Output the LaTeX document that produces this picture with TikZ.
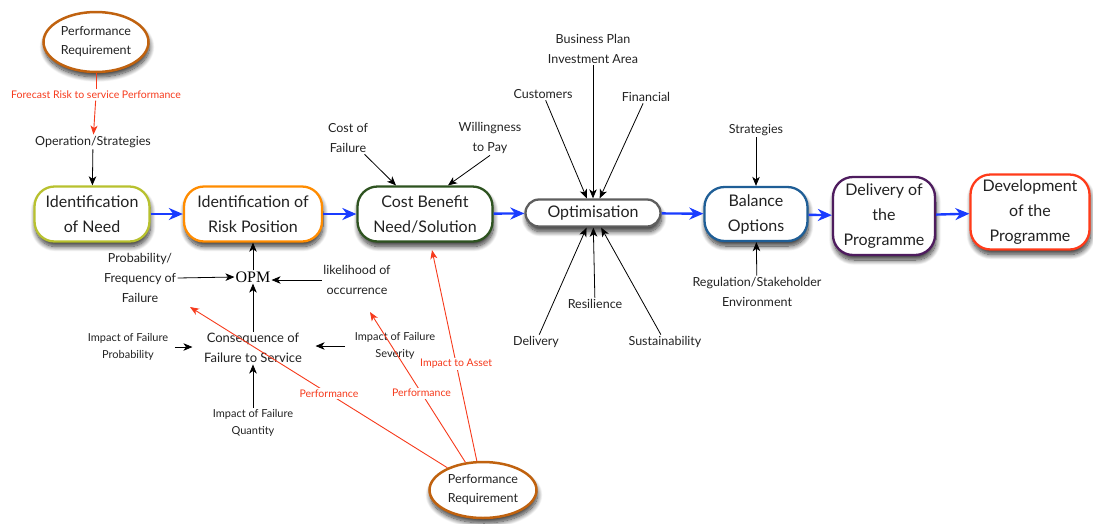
\documentclass[tikz,border=0pt]{standalone}
\usepackage{fontspec}
\setmainfont{Lato}
\newfontfamily\opmfont{Liberation Serif}
\usetikzlibrary{arrows.meta,shadows.blur,shapes.geometric}

\definecolor{needc}{HTML}{B8C12F}
\definecolor{riskc}{HTML}{FF8C00}
\definecolor{costc}{HTML}{2E5320}
\definecolor{optc}{HTML}{5E5E5E}
\definecolor{balc}{HTML}{1F5E96}
\definecolor{delc}{HTML}{4E1C5E}
\definecolor{devc}{HTML}{FF3B1A}
\definecolor{ellc}{HTML}{C0620F}
\definecolor{redc}{HTML}{F63A1C}
\definecolor{flowc}{HTML}{1A3CFF}
\definecolor{textc}{HTML}{222222}

\begin{document}
\begin{tikzpicture}[x=1pt,y=-1pt,
  soft/.style={blur shadow={shadow xshift=1pt, shadow yshift=-5pt,
      shadow blur steps=12, shadow blur radius=5pt, shadow opacity=80}},
  proc/.style={draw, line width=2.3pt, fill=white, rounded corners=20pt,
      align=center, inner sep=0pt, text=textc,
      font=\fontsize{16}{25}\selectfont, soft},
  req/.style={ellipse, draw=ellc, line width=2.5pt, fill=white, align=center,
      inner sep=0pt, text=textc, font=\fontsize{12.5}{19}\selectfont, soft},
  lbl/.style={align=center, inner sep=1.5pt, text=textc,
      font=\fontsize{12.5}{20}\selectfont},
  small/.style={align=center, inner sep=1.5pt, text=textc,
      font=\fontsize{11}{17.5}\selectfont},
  redlbl/.style={text=redc, inner sep=1.5pt, fill=white,
      font=\fontsize{10.5}{14}\selectfont},
  flow/.style={-{Stealth[length=14pt,width=12pt,inset=4.5pt]}, line width=2.4pt, draw=flowc},
  feed/.style={-{Stealth[length=9pt,width=7.5pt,inset=2.5pt]}, line width=0.8pt},
  redarr/.style={-{Stealth[length=9pt,width=7pt,inset=2.5pt]}, line width=0.9pt, draw=redc},
]
\useasboundingbox (0,0) rectangle (1093,523);

% main process chain
\node[proc, draw=needc, minimum width=115pt, minimum height=55pt] (need) at (92,214)
  {Identification\\of Need};
\node[proc, draw=riskc, minimum width=138pt, minimum height=55pt] (risk) at (253,214)
  {Identification of\\Risk Position};
\node[proc, draw=costc, minimum width=135pt, minimum height=55pt] (cost) at (425,214)
  {Cost Benefit\\Need/Solution};
\node[proc, draw=optc, rounded corners=13.5pt, minimum width=135pt, minimum height=27pt] (opt) at (593,213)
  {Optimisation};
\node[proc, draw=balc, minimum width=103pt, minimum height=54pt] (bal) at (756,214)
  {Balance\\Options};
\node[proc, draw=delc, minimum width=102pt, minimum height=78pt] (deliv) at (884,216)
  {Delivery of\\the\\Programme};
\node[proc, draw=devc, minimum width=119pt, minimum height=75pt] (devp) at (1030,212)
  {Development\\of the\\Programme};

\draw[flow] (need) -- (risk);
\draw[flow] (risk) -- (cost);
\draw[flow] (cost) -- (opt);
\draw[flow] (opt) -- (bal);
\draw[flow] (bal) -- (deliv);
\draw[flow] (deliv) -- (devp);

% performance requirement feeding the need
\node[req, minimum width=105pt, minimum height=60pt] (pr1) at (96,42)
  {Performance\\Requirement};
\node[redlbl, fill=none] (forecast) at (96,95) {Forecast Risk to service Performance};
\node[lbl] (ops) at (93,142) {Operation/Strategies};
\draw[line width=0.9pt, draw=redc] (pr1) -- (forecast);
\draw[redarr] (forecast) -- (ops);
\draw[feed] (ops) -- (need);

% risk position inputs
\node[inner sep=1pt, font=\opmfont\fontsize{16}{18}\selectfont] (opm) at (253,277) {OPM};
\node[lbl] (prob) at (140,278) {Probability/\\Frequency of\\Failure};
\node[lbl] (like) at (357,280) {likelihood of\\occurrence};
\node[lbl, font=\fontsize{13}{20}\selectfont] (cons) at (253,348) {Consequence of\\Failure to Service};
\node[small] (ip) at (128,347) {Impact of Failure\\Probability};
\node[small] (isev) at (395,346) {Impact of Failure\\Severity};
\node[small] (iq) at (253,423) {Impact of Failure\\Quantity};

\draw[feed] (opm) -- (risk);
\draw[feed] (prob.east) -- (opm.west);
\draw[feed] (like.west) -- (like.west -| opm.east);
\draw[feed] (cons) -- (opm);
\draw[feed, shorten <=5pt, shorten >=10pt] (ip.east) -- (ip.east -| cons.west);
\draw[feed, shorten <=8pt, shorten >=12pt] (isev.west) -- (isev.west -| cons.east);
\draw[feed] (iq) -- (cons);

% cost benefit inputs
\node[lbl] (costf) at (348,138) {Cost of\\Failure};
\node[lbl] (will) at (490,138) {Willingness\\to Pay};
\draw[feed] (costf) -- (cost);
\draw[feed] (will.south) -- ([xshift=23pt]cost.north);

% optimisation inputs
\node[lbl] (bplan) at (593,49) {Business Plan\\Investment Area};
\node[lbl] (cust) at (543,94) {Customers};
\node[lbl] (fin) at (646,97) {Financial};
\node[lbl] (dlv) at (536,342) {Delivery};
\node[lbl] (res) at (595,304) {Resilience};
\node[lbl] (sus) at (665,342) {Sustainability};
\draw[feed] (bplan) -- (opt);
\draw[feed] (cust) -- (opt);
\draw[feed] (fin) -- (opt);
\draw[feed] (dlv) -- (opt);
\draw[feed] (res) -- (opt);
\draw[feed] (sus) -- (opt);

% balance inputs
\node[lbl] (strat) at (756,130) {Strategies};
\node[lbl] (reg) at (757,292) {Regulation/Stakeholder\\Environment};
\draw[feed] (strat) -- (bal);
\draw[feed] (reg) -- (bal);

% performance requirement feeding risk and cost
\node[req, minimum width=107pt, minimum height=56pt] (pr2) at (483,490)
  {Performance\\Requirement};
\coordinate (t1) at (190,307);
\coordinate (t2) at (370,312);
\coordinate (t3) at (432,250);
\draw[redarr] (pr2) -- node[redlbl, pos=0.46] {Performance} (t1);
\draw[redarr] (pr2) -- node[redlbl, pos=0.46] {Performance} (t2);
\draw[redarr] (pr2) -- node[redlbl, pos=0.46] {Impact to Asset} (t3);
\end{tikzpicture}
\end{document}
